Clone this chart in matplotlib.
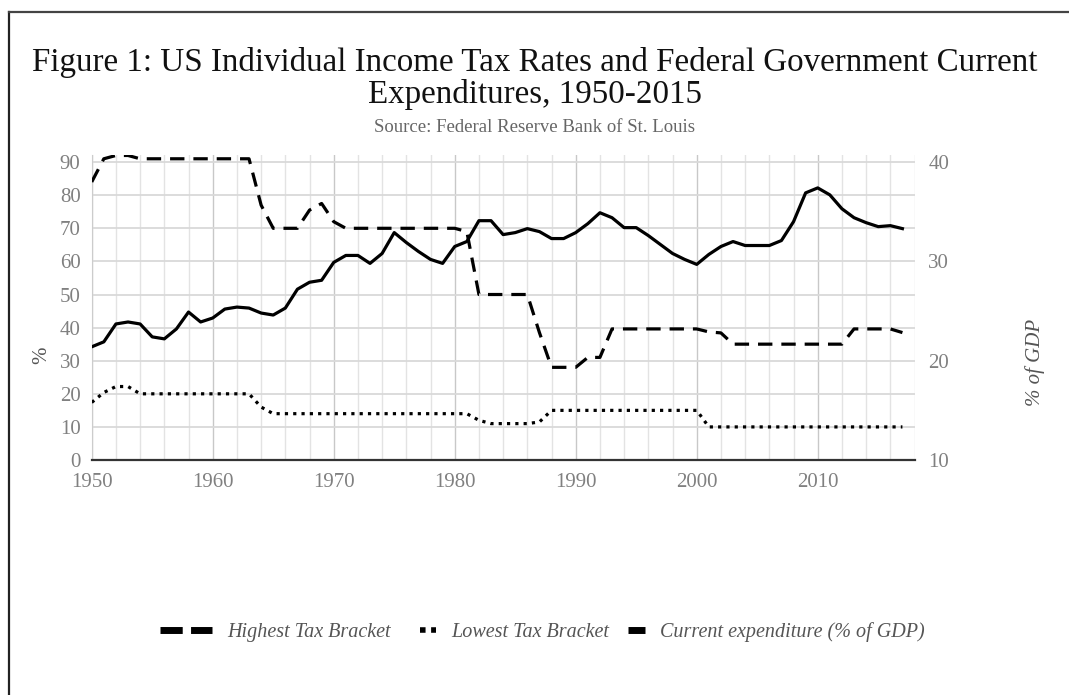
import matplotlib
matplotlib.use("Agg")
import matplotlib.pyplot as plt
from matplotlib.lines import Line2D
from matplotlib.ticker import MultipleLocator

# --------------------------------------------------
# Datos
# --------------------------------------------------
years = list(range(1950, 2018))

highest_bracket = [
    84, 91, 92, 92, 91, 91, 91, 91, 91, 91,          # 1950-1959
    91, 91, 91, 91, 77, 70, 70, 70, 75.5, 77.5,      # 1960-1969
    72, 70, 70, 70, 70, 70, 70, 70, 70, 70,          # 1970-1979
    70, 69, 50, 50, 50, 50, 50, 38.5, 28, 28,        # 1980-1989
    28, 31, 31, 39.6, 39.6, 39.6, 39.6, 39.6, 39.6, 39.6,  # 1990-1999
    39.6, 38.7, 38.4, 35, 35, 35, 35, 35, 35, 35,    # 2000-2009
    35, 35, 35, 39.6, 39.6, 39.6, 39.6, 38.5,        # 2010-2017
]

lowest_bracket = [
    17.4, 20.4, 22.2, 22.2, 20, 20, 20, 20, 20, 20,  # 1950-1959
    20, 20, 20, 20, 16, 14, 14, 14, 14, 14,          # 1960-1969
    14, 14, 14, 14, 14, 14, 14, 14, 14, 14,          # 1970-1979
    14, 14, 12, 11, 11, 11, 11, 11.5, 15, 15,        # 1980-1989
    15, 15, 15, 15, 15, 15, 15, 15, 15, 15,          # 1990-1999
    15, 10, 10, 10, 10, 10, 10, 10, 10, 10,          # 2000-2009
    10, 10, 10, 10, 10, 10, 10, 10,                  # 2010-2017
]

# Gasto corriente federal (% del PIB), eje derecho
expenditure = [
    21.4, 21.9, 23.7, 23.9, 23.7, 22.4, 22.2, 23.2, 24.9, 23.9,  # 1950-1959
    24.3, 25.2, 25.4, 25.3, 24.8, 24.6, 25.3, 27.2, 27.9, 28.1,  # 1960-1969
    29.9, 30.6, 30.6, 29.8, 30.8, 32.9, 31.9, 31.0, 30.2, 29.8,  # 1970-1979
    31.5, 32.0, 34.1, 34.1, 32.7, 32.9, 33.3, 33.0, 32.3, 32.3,  # 1980-1989
    32.9, 33.8, 34.9, 34.4, 33.4, 33.4, 32.6, 31.7, 30.8, 30.2,  # 1990-1999
    29.7, 30.7, 31.5, 32.0, 31.6, 31.6, 31.6, 32.1, 34.0, 36.9,  # 2000-2009
    37.4, 36.7, 35.3, 34.4, 33.9, 33.5, 33.6, 33.3,              # 2010-2017
]

left_ticks = list(range(0, 100, 10))
right_ticks = [10, 20, 30, 40]
x_ticks = list(range(1950, 2020, 10))

# --------------------------------------------------
# Figura
# --------------------------------------------------
serif = ["Liberation Serif", "DejaVu Serif"]
tick_grey = "#808080"

fig = plt.figure(figsize=(10.69, 6.95), dpi=100)

# borde negro (captura recortada: solo arriba e izquierda visibles)
fig.add_artist(Line2D([9 / 1069, 9 / 1069], [0, 1 - 12 / 695], color="#222222", lw=1.6))
fig.add_artist(Line2D([9 / 1069, 1], [1 - 12 / 695, 1 - 12 / 695], color="#444444", lw=1.6))

ax = fig.add_axes([0.0858, 0.3381, 0.7697, 0.4382])
ymax = 92
ax.set_xlim(1950, 2018)
ax.set_ylim(0, ymax)

ax.xaxis.set_major_locator(MultipleLocator(10))
ax.xaxis.set_minor_locator(MultipleLocator(2))
ax.set_xticks(x_ticks)
ax.set_yticks(left_ticks)
ax.grid(which="major", axis="x", color="#c8c8c8", lw=1.0)
ax.grid(which="minor", axis="x", color="#e3e3e3", lw=1.0)
ax.grid(which="major", axis="y", color="#d9d9d9", lw=1.3)
ax.set_axisbelow(True)

for s in ["top", "right"]:
    ax.spines[s].set_visible(False)
ax.spines["left"].set_color("#cccccc")
ax.spines["bottom"].set_color("#333333")
ax.spines["bottom"].set_linewidth(1.6)
ax.spines["bottom"].set_zorder(5)

ax.tick_params(which="both", length=0)
ax.tick_params(axis="x", pad=9, labelsize=15, labelcolor=tick_grey)
ax.tick_params(axis="y", pad=8, labelsize=15, labelcolor=tick_grey)
for lab in ax.get_xticklabels() + ax.get_yticklabels():
    lab.set_family(serif)

ax.plot(years, highest_bracket, color="black", lw=2.3, dashes=(4.5, 2.8),
        solid_joinstyle="round", dash_joinstyle="round", zorder=3)
ax.plot(years, lowest_bracket, color="black", lw=2.3, dashes=(1, 1.6), zorder=3)

ax2 = ax.twinx()
ax2.set_ylim(10, 10 + ymax / 3)
ax2.set_yticks(right_ticks)
for s in ax2.spines.values():
    s.set_visible(False)
ax2.tick_params(length=0, pad=10, labelsize=15, labelcolor=tick_grey)
for lab in ax2.get_yticklabels():
    lab.set_family(serif)
ax2.plot(years, expenditure, color="black", lw=2.3, solid_joinstyle="round", zorder=3)

# Etiquetas de ejes
fig.text(42 / 1069, 1 - 355 / 695, "%", rotation=90, ha="center", va="center",
         family=serif, fontsize=15, color="#555555")
fig.text(1035 / 1069, 1 - 362 / 695, "% of GDP", rotation=90, ha="center", va="center",
         family=serif, style="italic", fontsize=15, color="#555555")

# Titulo
fig.text(0.5, 1 - 62 / 695, "Figure 1: US Individual Income Tax Rates and Federal Government Current",
         ha="center", va="center", family=serif, fontsize=23.8, color="#111111")
fig.text(0.5, 1 - 95 / 695, "Expenditures, 1950-2015",
         ha="center", va="center", family=serif, fontsize=23.8, color="#111111")
fig.text(0.5, 1 - 128 / 695, "Source: Federal Reserve Bank of St. Louis",
         ha="center", va="center", family=serif, fontsize=13.5, color="#666666")

# Leyenda (tres bloques separados)
legend_items = [
    ("Highest Tax Bracket", dict(lw=5, dashes=(3.2, 1.2)), 160, 2.6),
    ("Lowest Tax Bracket", dict(lw=4, dashes=(1, 1)), 420, 0.8),
    ("Current expenditure (% of GDP)", dict(lw=5), 628, 0.85),
]
for label, style, xpix, hlen in legend_items:
    h = Line2D([], [], color="black", solid_capstyle="butt", **style)
    leg = fig.legend(handles=[h], labels=[label], loc="center left",
                     bbox_to_anchor=(xpix / 1069, 1 - 632 / 695), frameon=False,
                     handlelength=hlen, handletextpad=0.75, borderpad=0, borderaxespad=0,
                     prop=dict(family=serif, style="italic", size=14.5))
    for t in leg.get_texts():
        t.set_color("#555555")

fig.savefig("out.png", dpi=100)
